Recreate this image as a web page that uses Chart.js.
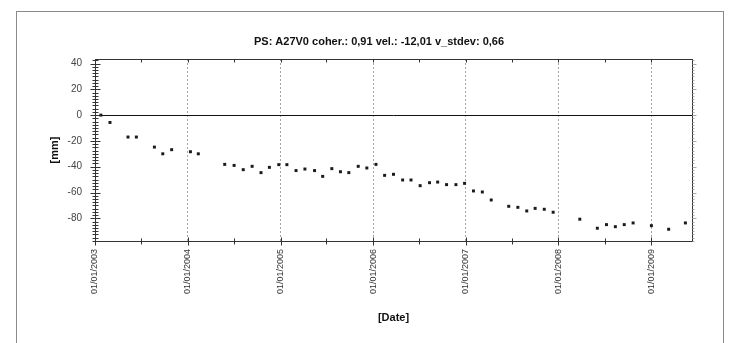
<!DOCTYPE html>
<html lang="en">
<head>
  <meta charset="UTF-8" />
  <title>PS: A27V0 displacement</title>
  <script src="https://cdn.jsdelivr.net/npm/chart.js"></script>
  <style>
    html, body { margin: 0; padding: 0; background: #fff; }
    #wrap { position: relative; width: 732px; height: 343px; }
  </style>
</head>
<body>
  <div id="wrap"><canvas id="psChart" width="732" height="343"></canvas></div>

  <script>
    // acquisition dates and displacement [mm]
    const dates = [
      '2003-01-24', '2003-03-01', '2003-05-11', '2003-06-13', '2003-08-23', '2003-09-25', '2003-10-30',
      '2004-01-12', '2004-02-12', '2004-05-26', '2004-07-02', '2004-08-07', '2004-09-11', '2004-10-16',
      '2004-11-18', '2004-12-25', '2005-01-26', '2005-03-03', '2005-04-07', '2005-05-15', '2005-06-16',
      '2005-07-22', '2005-08-25', '2005-09-27', '2005-11-03', '2005-12-07', '2006-01-12', '2006-02-15',
      '2006-03-22', '2006-04-27', '2006-05-30', '2006-07-05', '2006-08-11', '2006-09-12', '2006-10-17',
      '2006-11-23', '2006-12-27', '2007-01-31', '2007-03-07', '2007-04-11', '2007-06-19', '2007-07-25',
      '2007-08-29', '2007-10-01', '2007-11-06', '2007-12-11', '2008-03-25', '2008-06-02', '2008-07-08',
      '2008-08-12', '2008-09-16', '2008-10-21', '2009-01-01', '2009-03-10', '2009-05-15'
    ];
    const displacement = [
      0, -5.7, -17, -17, -24.8, -30, -26.8,
      -28.4, -30, -38.2, -39, -42.3, -39.7, -44.6,
      -40.5, -38.4, -38.4, -43, -41.8, -43, -47.5,
      -41.5, -43.9, -44.6, -39.7, -41, -38.2, -46.7,
      -45.9, -50.3, -50.3, -54.7, -52.4, -51.9, -53.9,
      -53.9, -52.9, -58.8, -59.6, -65.8, -70.7, -71.5,
      -74.3, -72.3, -73, -75.3, -80.7, -87.7, -84.9,
      -86.5, -84.9, -83.6, -85.7, -88.5, -83.6
    ];
    const yTicks = [-80, -60, -40, -20, 0, 20, 40];
    const yearTicks = ['2003-01-01', '2004-01-01', '2005-01-01', '2006-01-01', '2007-01-01', '2008-01-01', '2009-01-01'];
    const midYearTicks = ['2003-07-01', '2004-07-01', '2005-07-01', '2006-07-01', '2007-07-01', '2008-07-01'];

    const points = dates.map((d, i) => ({ x: Date.parse(d), y: displacement[i] }));
    const yearMs = yearTicks.map(d => Date.parse(d));
    const midMs = midYearTicks.map(d => Date.parse(d));
    const allXTicks = yearMs.concat(midMs).sort((a, b) => a - b);

    const fmtDate = (v) => {
      const d = new Date(v);
      const dd = String(d.getUTCDate()).padStart(2, '0');
      const mm = String(d.getUTCMonth() + 1).padStart(2, '0');
      return dd + '/' + mm + '/' + d.getUTCFullYear();
    };

    // outer frame, plot box, cross ticks on the axes
    const frame = {
      id: 'frame',
      beforeDraw(chart) {
        const c = chart.ctx;
        c.save();
        c.strokeStyle = '#8a8a8a';
        c.lineWidth = 1;
        c.strokeRect(16.5, 11.5, 707, 340);
        c.restore();
      },
      afterDraw(chart) {
        const c = chart.ctx;
        const a = chart.chartArea;
        const xs = chart.scales.x;
        const ys = chart.scales.y;
        c.save();
        c.strokeStyle = '#333';
        c.lineWidth = 1;
        c.strokeRect(Math.round(a.left) + 0.5, Math.round(a.top) + 0.5,
          Math.round(a.right - a.left), Math.round(a.bottom - a.top));

        c.beginPath();
        // y ticks, left edge crosses the axis, right edge outside
        for (let v = -97.5; v <= 43.5; v += 2.5) {
          const py = Math.round(ys.getPixelForValue(v)) + 0.5;
          const major = v % 20 === 0;
          const l = Math.round(a.left) + 0.5;
          c.moveTo(l - (major ? 5 : 3), py);
          c.lineTo(l + (major ? 5 : 3), py);
        }
        // x ticks on bottom and top edges
        allXTicks.forEach(t => {
          const px = Math.round(xs.getPixelForValue(t)) + 0.5;
          const major = yearMs.includes(t);
          const b = Math.round(a.bottom) + 0.5;
          const tp = Math.round(a.top) + 0.5;
          c.moveTo(px, b - (major ? 4 : 3));
          c.lineTo(px, b + (major ? 4 : 3));
          c.moveTo(px, tp);
          c.lineTo(px, tp + 3);
        });
        c.stroke();

        c.strokeStyle = '#aaa';
        c.beginPath();
        for (let v = -97.5; v <= 43.5; v += 2.5) {
          const py = Math.round(ys.getPixelForValue(v)) + 0.5;
          const r = Math.round(a.right) + 0.5;
          c.moveTo(r, py);
          c.lineTo(r + (v % 20 === 0 ? 4 : 2), py);
        }
        c.stroke();
        c.restore();
      }
    };

    const ctx = document.getElementById('psChart').getContext('2d');
    new Chart(ctx, {
      type: 'scatter',
      data: {
        datasets: [{
          label: 'displacement',
          data: points,
          pointStyle: 'rect',
          pointRadius: 2.1,
          pointHoverRadius: 2.1,
          backgroundColor: '#1a1a1a',
          borderColor: '#1a1a1a',
          borderWidth: 0,
          showLine: false
        }]
      },
      options: {
        responsive: false,
        animation: false,
        events: [],
        layout: { padding: { left: 26, right: 0, top: 35, bottom: 18 } },
        plugins: {
          legend: { display: false },
          tooltip: { enabled: false },
          title: {
            display: true,
            text: 'PS: A27V0 coher.: 0,91 vel.: -12,01 v_stdev: 0,66',
            color: '#111',
            font: { family: 'Liberation Sans, Arial, sans-serif', size: 11, weight: 'bold' },
            padding: { top: 0, bottom: 10.8 }
          }
        },
        scales: {
          x: {
            type: 'linear',
            min: Date.parse('2003-01-01'),
            max: Date.parse('2009-06-10'),
            afterBuildTicks: (s) => { s.ticks = allXTicks.map(v => ({ value: v })); },
            afterFit: (s) => { s.height = 84; },
            ticks: {
              autoSkip: false,
              minRotation: 90,
              maxRotation: 90,
              padding: 8,
              color: '#333',
              font: { family: 'Liberation Sans, Arial, sans-serif', size: 9 },
              callback: (v) => yearMs.includes(v) ? fmtDate(v) : ''
            },
            grid: {
              drawTicks: false,
              color: (c) => (c.tick && yearMs.includes(c.tick.value)) ? '#a5a5a5' : 'rgba(0,0,0,0)'
            },
            border: { display: false, dash: [2, 2] },
            title: {
              display: true,
              text: '[Date]',
              color: '#111',
              font: { family: 'Liberation Sans, Arial, sans-serif', size: 11, weight: 'bold' },
              padding: { top: 0, bottom: 0 }
            }
          },
          y: {
            type: 'linear',
            position: 'left',
            min: -97.6,
            max: 43.5,
            afterBuildTicks: (s) => { s.ticks = yTicks.map(v => ({ value: v })); },
            afterFit: (s) => { s.width = 69; },
            ticks: {
              padding: 13,
              color: '#444',
              font: { family: 'Liberation Sans, Arial, sans-serif', size: 10 }
            },
            grid: {
              drawTicks: false,
              color: (c) => (c.tick && c.tick.value === 0) ? '#111' : 'rgba(0,0,0,0)'
            },
            border: { display: false },
            title: {
              display: true,
              text: '[mm]',
              color: '#111',
              font: { family: 'Liberation Sans, Arial, sans-serif', size: 11, weight: 'bold' },
              padding: { top: 22, bottom: 0 }
            }
          },
          y2: {
            type: 'linear',
            position: 'right',
            min: -97.6,
            max: 43.5,
            afterFit: (s) => { s.width = 40; },
            ticks: { display: false },
            grid: { display: false, drawOnChartArea: false },
            border: { display: false }
          }
        }
      },
      plugins: [frame]
    });
  </script>
</body>
</html>
